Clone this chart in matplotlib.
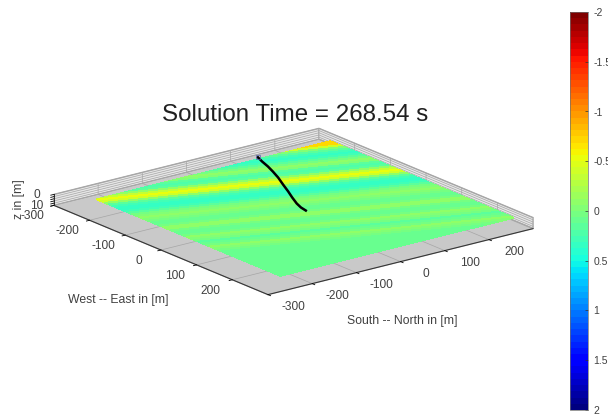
"""Wave field snapshot with the ship track, seen from above."""
import matplotlib

matplotlib.use("Agg")
import matplotlib.pyplot as plt
import numpy as np
from matplotlib.cm import ScalarMappable
from matplotlib.colors import Normalize
from mpl_toolkits.mplot3d import proj3d

WIDTH, HEIGHT = 608, 415
TEXT_COLOR = "#404040"

x_ticks = [-300, -200, -100, 0, 100, 200]
y_ticks = [-300, -200, -100, 0, 100, 200]
z_ticks = [0, 2, 4, 6, 8, 10]
z_tick_labels = ["0", "", "", "", "", "10"]
bar_ticks = [-2, -1.5, -1, -0.5, 0, 0.5, 1, 1.5, 2]
bar_tick_labels = ["-2", "-1.5", "-1", "-0.5", "0", "0.5", "1", "1.5", "2"]

# Extent of the wave field
field_x = [-234, 280]
field_y = [-256, 272]

# Elevation read across the crests, from the far corner to the near corner
wave_elevation = [
    -0.72, -0.75, -0.7, -0.4, -0.05, 0.18, 0.3, 0.36, 0.28, 0.14, 0.0, -0.08,
    -0.02, 0.14, 0.24, 0.16, -0.08, -0.36, -0.52, -0.4, -0.08, 0.16, 0.3, 0.36,
    0.36, 0.28, 0.16, 0.04, -0.06, -0.1, -0.06, 0.02, 0.1, 0.1, 0.0, -0.1,
    -0.1, 0.0, 0.1, 0.1, 0.0, -0.08, -0.06, 0.06, 0.16, 0.12, 0.0, -0.08,
    -0.02, 0.06, 0.12, 0.12, 0.1, 0.08, 0.08, 0.1, 0.12, 0.12, 0.1, 0.08,
    0.08, 0.1, 0.12,
]
crest_skew = 0.358
crest_start = -337
crest_step = 10.88

# Ship track
track_x = [-242, -221, -193, -167, -136, -101, -67, -37, -7, 14, 32]
track_y = [115, 107, 98, 88, 75, 58, 42, 27, 13, 5.5, 2]

plt.rcParams["font.family"] = ["Liberation Sans", "DejaVu Sans"]

fig = plt.figure(figsize=(WIDTH / 100, HEIGHT / 100), dpi=100)
size = 470.5
ax = fig.add_axes(
    [51.9 / WIDTH, -38.1 / HEIGHT, size / WIDTH, size / HEIGHT],
    projection="3d",
    proj_type="ortho",
    computed_zorder=False,
)
ax.patch.set_alpha(0)
ax.view_init(elev=18.8, azim=-37.7)
ax.set_box_aspect((350, 335, 11.6))
ax.set_xlim(-300, 300)
ax.set_ylim(-300, 300)
ax.set_zlim(10, 0)

ax.set_xticks(x_ticks)
ax.set_yticks(y_ticks)
ax.set_zticks(z_ticks)
ax.set_xticklabels([])
ax.set_yticklabels([])
ax.set_zticklabels([])
ax.zaxis.set_ticks_position("lower")
ax.zaxis.set_label_position("lower")

# Floor and walls
ax.xaxis.set_pane_color("#e6e6e6")
ax.yaxis.set_pane_color("#e6e6e6")
ax.zaxis.set_pane_color("#c9c9c9")
for axis in (ax.xaxis, ax.yaxis, ax.zaxis):
    axis.pane.set_edgecolor("#a8a8a8")
    axis.line.set_color("#303030")
    axis.line.set_linewidth(0.7)
    axis._axinfo["grid"].update(color="#a6a6a6", linewidth=0.5)
    axis._axinfo["tick"].update(inward_factor=0.15, outward_factor=0, linewidth={True: 0.6, False: 0.6})
    axis._axinfo["tick"]["color"] = "#303030"

# Wave field, one flat band per value read
cmap = plt.get_cmap("jet_r", 64)
norm = Normalize(-2, 2)
grid_x, grid_y = np.meshgrid(field_x, field_y)
crest_position = grid_x - crest_skew * grid_y
band_edges = crest_start + crest_step * np.arange(len(wave_elevation) + 1)
band_edges[0] = crest_position.min()
band_edges[-1] = crest_position.max()
surface = ax.contourf(
    grid_x,
    grid_y,
    crest_position,
    levels=band_edges,
    colors=[cmap(norm(value)) for value in wave_elevation],
    zdir="z",
    offset=0,
    zorder=2,
)
surface.set_edgecolor("face")
surface.set_linewidth(0.6)

# Track and its starting marker
ax.plot(track_x, track_y, np.zeros(len(track_x)), color="black", linewidth=1.8, zorder=3)
ax.plot(
    track_x[:1], track_y[:1], [0], marker="s", markersize=3, fillstyle="none",
    markeredgecolor="#5060b0", markeredgewidth=0.5, zorder=4,
)


def tick_text(x, y, z, label, dx, dy):
    """Write a tick label a few pixels away from its point on the box."""
    px, py, _ = proj3d.proj_transform(x, y, z, ax.get_proj())
    ax.annotate(
        label, (px, py), xytext=(dx, dy), textcoords="offset pixels",
        ha="center", va="center", fontsize=8.6, color=TEXT_COLOR, annotation_clip=False,
    )


for value in x_ticks:
    tick_text(value, -300, 10, str(value), -22, -11)
for value in y_ticks:
    tick_text(300, value, 10, str(value), 25, -12)
for value, label in zip(z_ticks, z_tick_labels):
    tick_text(-300, -300, value, label, -17, -1)

fig.text(295 / WIDTH, 1 - 115 / HEIGHT, "Solution Time = 268.54 s", ha="center", va="center",
         fontsize=17.4, color="#202020")
fig.text(118 / WIDTH, 1 - 300 / HEIGHT, "West -- East in [m]", ha="center", va="center",
         fontsize=8.8, color=TEXT_COLOR)
fig.text(402 / WIDTH, 1 - 321 / HEIGHT, "South -- North in [m]", ha="center", va="center",
         fontsize=8.8, color=TEXT_COLOR)
fig.text(19 / WIDTH, 1 - 199 / HEIGHT, "z in [m]", ha="center", va="center", rotation=90,
         fontsize=8.8, color=TEXT_COLOR)

# Colour bar
cax = fig.add_axes([570 / WIDTH, 1 - 410 / HEIGHT, 18 / WIDTH, 398 / HEIGHT])
bar = fig.colorbar(ScalarMappable(norm=norm, cmap=cmap), cax=cax)
bar.set_ticks(bar_ticks, labels=bar_tick_labels)
cax.invert_yaxis()
cax.tick_params(direction="in", length=2, width=0.5, pad=4, labelsize=7.5, labelcolor=TEXT_COLOR, color="#303030")
bar.outline.set_edgecolor("#707070")
bar.outline.set_linewidth(0.5)

fig.savefig("out.png", dpi=100)
